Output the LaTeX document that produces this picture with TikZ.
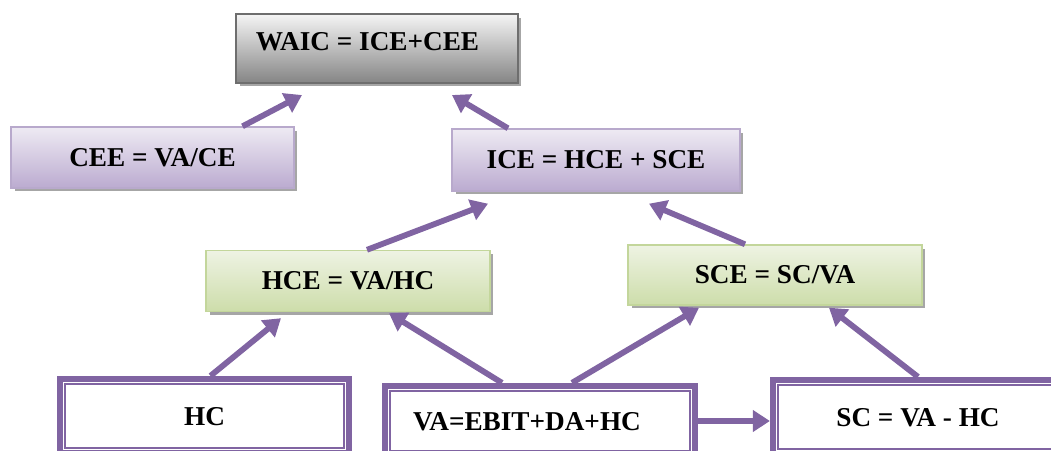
\documentclass[tikz,border=0pt]{standalone}
\usepackage{fontspec}
\setmainfont{Liberation Serif}
\usetikzlibrary{arrows.meta,shadows}

\definecolor{vio}{HTML}{8064A2}
\definecolor{boxgray}{HTML}{6E6E6E}
\definecolor{lavline}{HTML}{B8A9CC}
\definecolor{lavtop}{HTML}{EEEAF3}
\definecolor{lavbot}{HTML}{BBABD0}
\definecolor{grnline}{HTML}{C3D69B}
\definecolor{grntop}{HTML}{EEF3E3}
\definecolor{grnbot}{HTML}{CDDDAA}

\begin{document}
\begin{tikzpicture}[x=0.02cm, y=0.02cm,
    every node/.style={font=\fontsize{15.5}{18}\selectfont\bfseries, inner sep=0pt,
      text height=0.36cm, text depth=0cm},
    graybox/.style={draw=boxgray, line width=1.2pt, top color=black!4, bottom color=black!48,
      drop shadow={shadow xshift=0.07cm, shadow yshift=-0.07cm, fill=black!35, opacity=1}},
    lavbox/.style={draw=lavline, line width=0.8pt, top color=lavtop, bottom color=lavbot,
      drop shadow={shadow xshift=0.07cm, shadow yshift=-0.07cm, fill=black!35, opacity=1}},
    grnbox/.style={draw=grnline, line width=0.8pt, top color=grntop, bottom color=grnbot,
      drop shadow={shadow xshift=0.07cm, shadow yshift=-0.07cm, fill=black!35, opacity=1}},
    srcbox/.style={draw=vio, line width=3.6pt, fill=white},
    innerline/.style={draw=vio, line width=1.1pt},
    flow/.style={draw=vio, line width=3.3pt, -{Triangle[width=0.42cm,length=0.34cm]}}]

  \useasboundingbox (0,0) rectangle (1051,450);

  % top row
  \node[graybox, minimum width=5.64cm, minimum height=1.38cm, text depth=0.28cm]
    (waic) at (377,401.5) {WAIC = ICE+CEE\hspace*{0.38cm}};

  % ratios
  \node[lavbox, minimum width=5.66cm, minimum height=1.22cm] (cee) at (152.5,292.5) {CEE = VA/CE};
  \node[lavbox, minimum width=5.76cm, minimum height=1.24cm] (ice) at (596,290) {ICE = HCE + SCE};
  \node[grnbox, minimum width=5.68cm, minimum height=1.22cm] (hce) at (348,169) {HCE = VA/HC};
  \node[grnbox, minimum width=5.88cm, minimum height=1.2cm] (sce) at (775,175) {SCE = SC/VA};

  % inputs
  \node[srcbox, minimum width=5.78cm, minimum height=1.48cm] (hc) at (204.5,34) {HC};
  \node[srcbox, minimum width=6.2cm, minimum height=1.4cm] (va) at (540,29) {VA=EBIT+DA+HC\hspace*{0.52cm}};
  \node[srcbox, minimum width=5.8cm, minimum height=1.48cm] (sc) at (918,33) {SC = VA - HC};

  \draw[innerline] ([xshift=0.17cm,yshift=-0.17cm]hc.north west) rectangle ([xshift=-0.17cm,yshift=0.17cm]hc.south east);
  \draw[innerline] ([xshift=0.17cm,yshift=-0.17cm]va.north west) rectangle ([xshift=-0.17cm,yshift=0.17cm]va.south east);
  \draw[innerline] ([xshift=0.17cm,yshift=-0.17cm]sc.north west) rectangle ([xshift=-0.17cm,yshift=0.17cm]sc.south east);

  % arrows
  \draw[flow] ([xshift=1.8cm]cee.north) -- ([shift={(-75,-11)}]waic.south);
  \draw[flow] ([xshift=-1.76cm]ice.north) -- ([shift={(75,-11)}]waic.south);
  \draw[flow] ([xshift=0.38cm]hce.north) -- ([shift={(-108,-12)}]ice.south);
  \draw[flow] ([xshift=-0.6cm]sce.north) -- ([shift={(53,-12)}]ice.south);
  \draw[flow] ([xshift=0.12cm]hc.north) -- ([shift={(-67,-6)}]hce.south);
  \draw[flow] ([xshift=-0.76cm]va.north) -- ([shift={(41,-1)}]hce.south);
  \draw[flow] ([xshift=0.64cm]va.north) -- ([shift={(-76,-2)}]sce.south);
  \draw[flow] (sc.north) -- ([shift={(54,-2)}]sce.south);
  \draw[flow] (va.east) -- (va.east -| sc.west);

\end{tikzpicture}
\end{document}
